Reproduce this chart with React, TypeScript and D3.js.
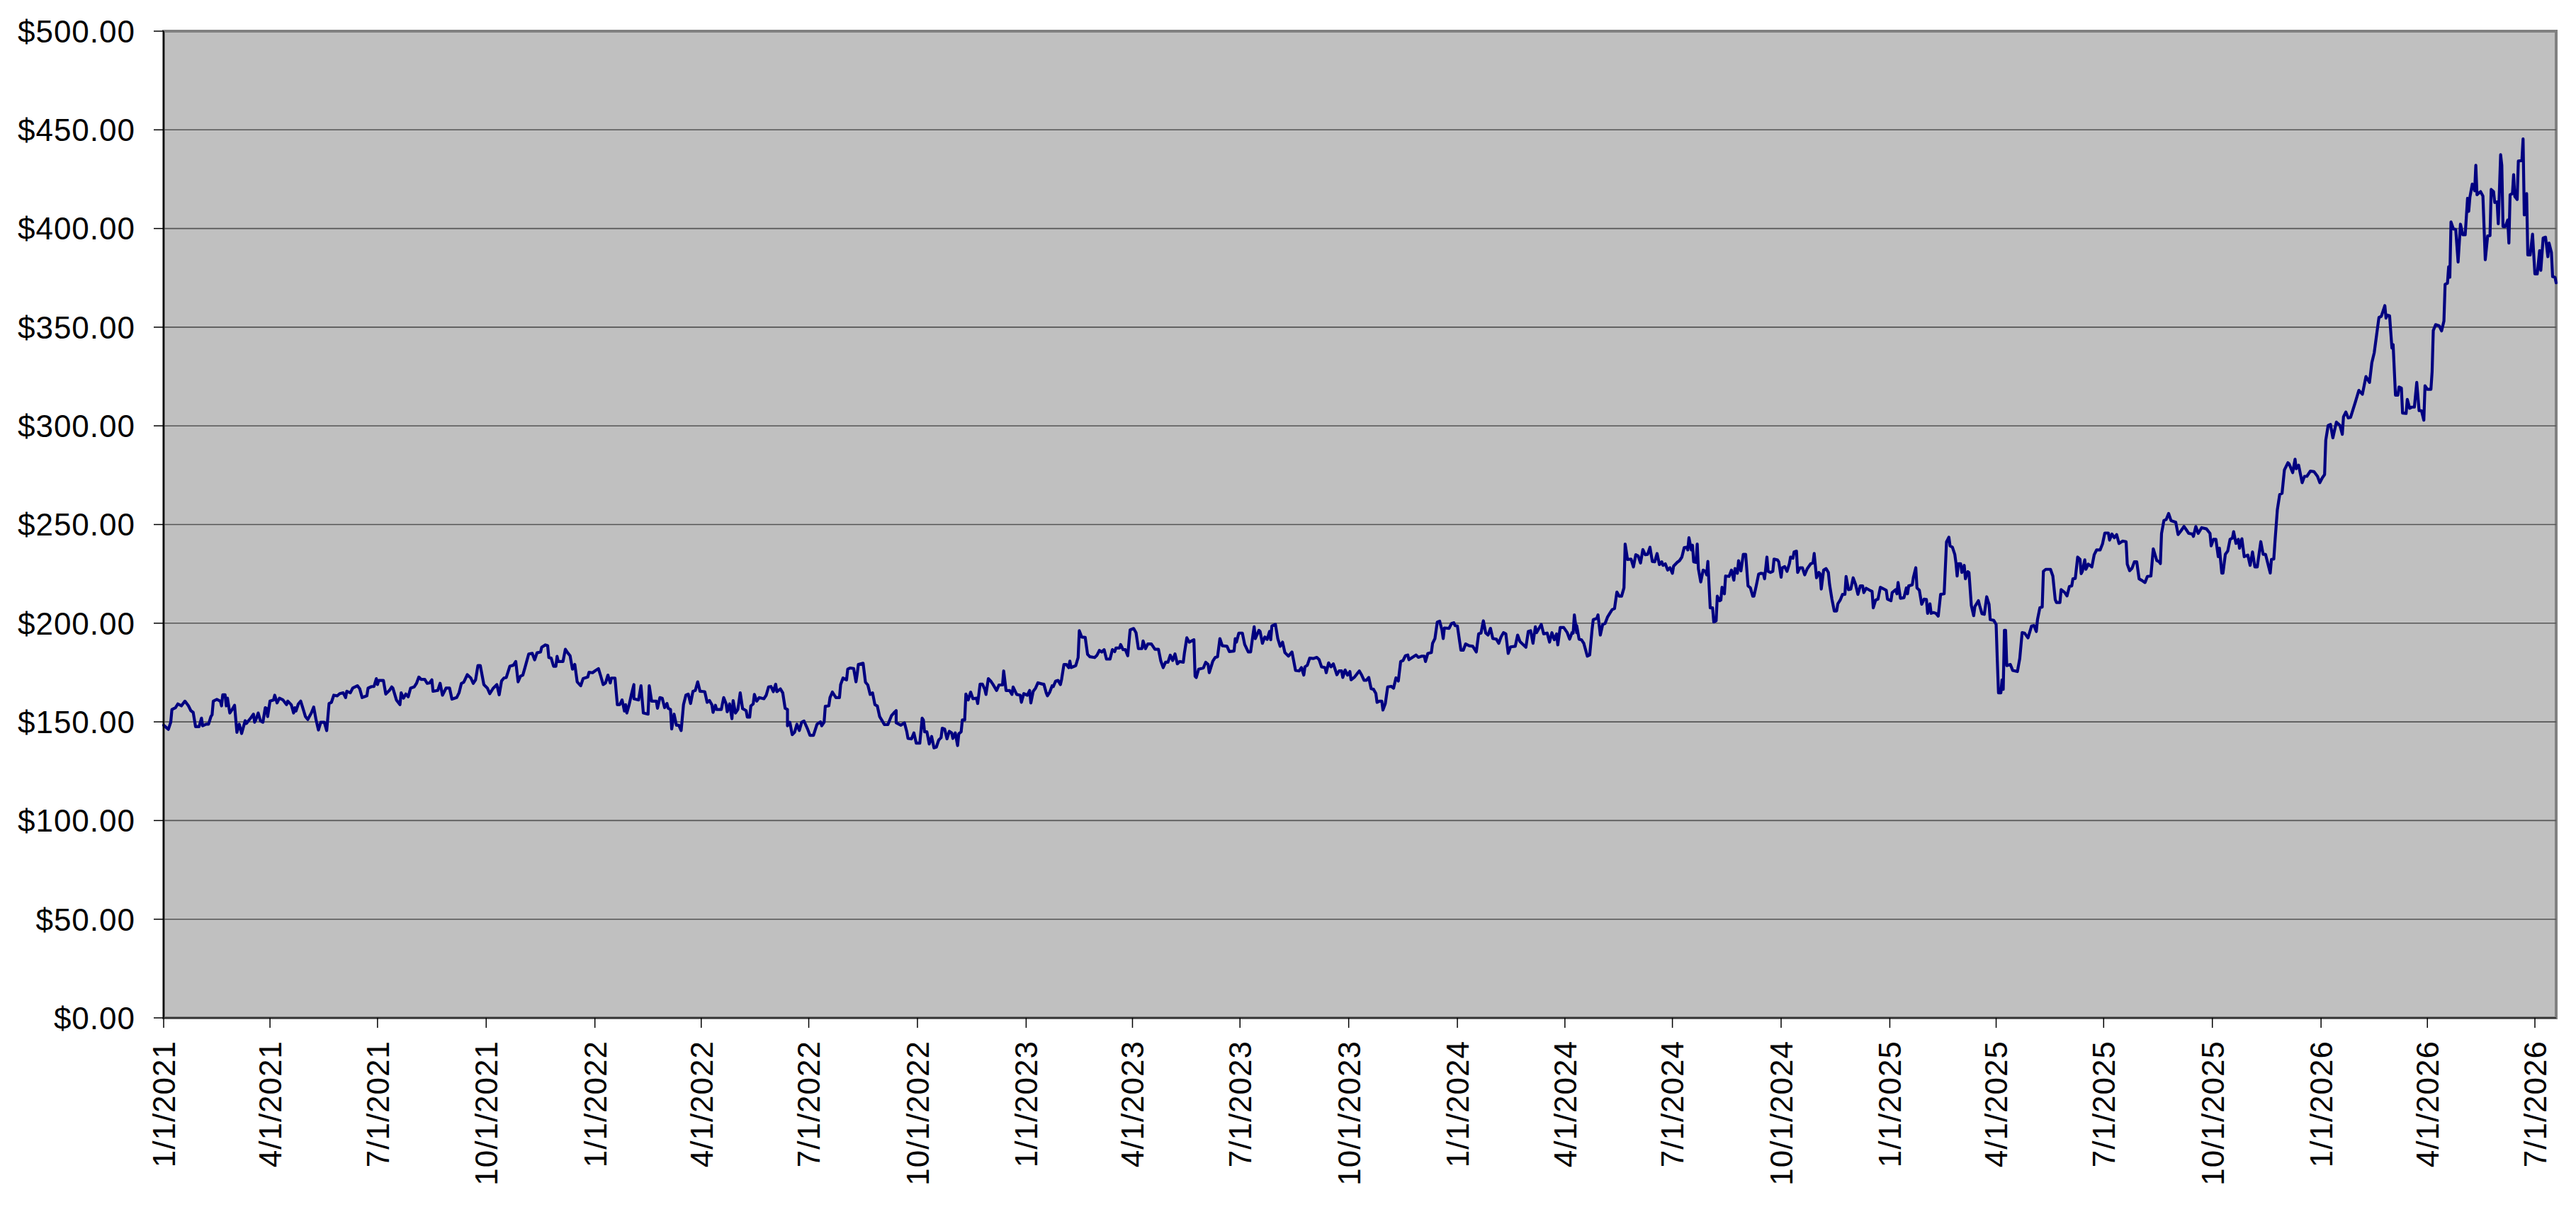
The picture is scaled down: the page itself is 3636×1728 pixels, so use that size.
import { useEffect } from "react";
import * as d3 from "d3";

// closing prices; day = days since 1/1/2021
const startDate = new Date(2021, 0, 1);

const days = [
  0, 4, 6, 7, 10, 12, 15, 18, 21, 23, 25, 27, 30, 32, 33, 36, 38, 40, 41, 42,
  45, 48, 49, 50, 52, 53, 54, 56, 58, 60, 62, 64, 66, 69, 70, 74, 76, 77, 78, 80,
  82, 84, 86, 87, 88, 90, 93, 94, 96, 98, 101, 104, 105, 108, 110, 111, 112, 114, 116, 118,
  120, 122, 125, 127, 129, 131, 133, 136, 138, 140, 142, 144, 147, 149, 152, 154, 155, 158, 160, 164,
  166, 168, 172, 173, 176, 178, 180, 181, 182, 186, 188, 191, 193, 194, 197, 200, 201, 203, 205, 207,
  209, 212, 214, 216, 218, 221, 223, 225, 227, 228, 232, 234, 236, 239, 242, 244, 248, 250, 252, 254,
  257, 260, 262, 264, 266, 268, 271, 274, 276, 279, 282, 284, 286, 288, 290, 293, 296, 298, 300, 302,
  304, 306, 309, 312,
  314, 316, 319, 320, 323, 325, 326, 328, 330, 332, 333, 334, 338, 340, 342, 344, 346, 348, 350, 353,
  355, 359, 360, 363, 365, 368, 370, 372, 374, 376, 378, 379, 382, 384, 386, 388, 390, 391, 392, 394,
  396, 398, 398, 402, 404, 406, 410, 411, 413, 417, 418, 420, 422, 424, 426, 427, 429, 430, 432, 434,
  436, 438, 440, 442, 444, 446, 448, 450, 452, 454, 458, 460, 462, 464, 465, 467, 468, 472, 474, 476,
  477, 479, 481, 482, 484, 486, 488, 490, 493, 494, 496, 497, 499, 500, 502, 504, 508, 510, 512, 514,
  516, 518, 519, 522, 524, 526, 528, 528, 530, 532, 534, 536, 538, 540, 542, 545, 547, 550, 553, 556,
  557, 559, 560, 563, 564, 566, 569, 572, 573, 575, 578, 579, 581, 584, 586, 587, 588, 592, 594, 596,
  598, 600, 602, 604, 606, 608, 610, 613, 616, 618, 620, 620, 624,
  627, 629, 630, 633, 635, 637, 640, 642, 643, 644, 646, 648, 650, 652, 654, 656, 658, 659, 661, 663,
  665, 667, 668, 670, 672, 673, 675, 676, 678, 679, 681, 683, 685, 688, 689, 691, 693, 695, 696, 698,
  700, 702, 705, 707, 710, 711, 713, 716, 718, 719, 722, 725, 726, 728, 731, 733, 734, 736, 738, 740,
  744, 745, 747, 748, 750, 752, 753, 755, 757, 759, 760, 762, 764, 766, 767, 768, 772, 774, 775, 777,
  780, 782, 784, 788, 790, 792, 794, 796, 798, 801, 803, 805, 806, 809, 810, 812, 814, 816, 818, 821,
  823, 825, 828, 829, 831, 833, 836, 839, 842, 844, 846, 848, 850, 852, 854, 856, 858, 860, 863, 864,
  866, 868, 872, 873, 874, 876, 880, 882, 884, 885, 888, 890, 892, 894, 896, 900, 902, 906, 907, 908,
  910, 913, 915, 918, 920, 922, 923, 924, 927, 928, 930, 932, 934, 936,
  937, 938, 941, 943, 945, 947, 949, 952, 955, 958, 961, 963, 965, 966, 968, 970, 973, 976, 978, 980,
  983, 984, 986, 988, 990, 993, 995, 997, 998, 1000, 1002, 1004, 1005, 1008, 1010, 1012, 1014, 1016, 1018, 1020,
  1022, 1024, 1026, 1027, 1029, 1031, 1032, 1034, 1036, 1039, 1041, 1043, 1045, 1047, 1049, 1051, 1053, 1054, 1057, 1060,
  1062, 1065, 1067, 1068, 1070, 1073, 1074, 1076, 1078, 1080, 1082, 1083, 1084, 1088, 1090, 1092, 1093, 1095, 1098, 1100,
  1102, 1105, 1108, 1111, 1113, 1115, 1117, 1119, 1121, 1123, 1125, 1128, 1130, 1132, 1134, 1136, 1138, 1140, 1144, 1146,
  1148, 1150, 1153, 1155, 1157, 1159, 1161, 1162, 1166, 1168, 1171, 1173, 1175, 1177, 1179, 1180, 1182, 1185, 1188, 1190,
  1192, 1193, 1194, 1196, 1196, 1198, 1200, 1202, 1205, 1207, 1209, 1210, 1213, 1214, 1216, 1218, 1220, 1222, 1224, 1226,
  1228, 1230, 1232, 1234, 1236, 1237, 1239, 1242, 1244, 1246, 1248,
  1250, 1252, 1254, 1256, 1258, 1260, 1262, 1264, 1266, 1268, 1269, 1271, 1273, 1275, 1277, 1278, 1281, 1283, 1285, 1287,
  1289, 1290, 1291, 1293, 1294, 1295, 1297, 1298, 1299, 1301, 1303, 1305, 1306, 1307, 1309, 1311, 1312, 1314, 1315, 1317,
  1318, 1319, 1321, 1322, 1325, 1327, 1329, 1330, 1332, 1333, 1335, 1337, 1339, 1341, 1343, 1345, 1346, 1348, 1350, 1352,
  1354, 1355, 1357, 1358, 1360, 1362, 1363, 1366, 1367, 1369, 1370, 1372, 1374, 1376, 1377, 1379, 1380, 1382, 1383, 1385,
  1387, 1389, 1391, 1394, 1396, 1397, 1399, 1401, 1402, 1403, 1405, 1407, 1409, 1410, 1412, 1414, 1416, 1417, 1419, 1421,
  1423, 1424, 1426, 1428, 1430, 1432, 1434, 1436, 1438, 1439, 1441, 1444, 1446, 1447, 1449, 1451, 1453, 1456, 1458, 1459,
  1462, 1463, 1466, 1467, 1468, 1470, 1473, 1475, 1476, 1477, 1480, 1481, 1483, 1484, 1486, 1488, 1490, 1492, 1493, 1495,
  1496, 1498, 1500, 1502, 1504, 1507, 1509, 1511, 1512, 1514, 1516, 1517, 1518, 1519, 1521, 1522, 1524, 1525, 1527, 1528,
  1530, 1532, 1533, 1536, 1537, 1539, 1541, 1543, 1545, 1546, 1549, 1551, 1552, 1553, 1555, 1556, 1557, 1558, 1559,
  1560, 1563, 1565, 1569, 1571, 1573, 1575, 1578, 1579, 1581, 1583, 1585, 1586, 1588, 1590, 1591, 1593, 1597, 1599, 1601,
  1602, 1605, 1606, 1609, 1611, 1613, 1615, 1616, 1618, 1620, 1622, 1623, 1624, 1626, 1627, 1629, 1632, 1634, 1636, 1639,
  1641, 1643, 1646, 1647, 1649, 1651, 1653, 1655, 1658, 1661, 1662, 1664, 1666, 1668, 1670, 1672, 1674, 1677, 1679, 1682,
  1684, 1687, 1689, 1690, 1691, 1693, 1695, 1697, 1699, 1703, 1705, 1707, 1710, 1712, 1714, 1717, 1718, 1720, 1722, 1725,
  1729, 1732, 1733, 1735, 1737, 1739, 1740, 1742, 1743, 1745, 1747, 1749, 1751, 1752, 1754, 1756, 1757, 1759, 1761, 1764,
  1766, 1768, 1770, 1772, 1775, 1777, 1779, 1781, 1783, 1784, 1786, 1787, 1789, 1791, 1793, 1795, 1798, 1799, 1802, 1804,
  1805, 1807, 1810, 1812, 1814, 1817, 1820, 1823, 1825, 1827, 1829, 1830, 1832, 1834, 1836, 1839, 1842, 1844, 1845, 1847,
  1849, 1851, 1855, 1858, 1861, 1864, 1867, 1869,
  1871, 1873, 1875, 1877, 1880, 1881, 1882, 1884, 1886, 1887, 1889, 1891, 1892, 1894, 1895, 1898, 1899, 1901, 1903, 1905,
  1907, 1909, 1911, 1913, 1914, 1916, 1919, 1920, 1921, 1923, 1926, 1928, 1930, 1931, 1933, 1934, 1935, 1936, 1938, 1940,
  1942, 1944, 1946, 1948, 1950, 1951, 1952, 1954, 1956, 1957, 1958, 1961, 1963, 1965, 1967, 1969, 1970, 1972, 1973, 1975,
  1976, 1978, 1979, 1980, 1982, 1984, 1985, 1986, 1988, 1989, 1990, 1992, 1993, 1996, 1997, 1998, 2000, 2001, 2003, 2005,
  2007, 2009, 2011, 2012, 2014, 2016, 2018, 2019, 2021, 2022, 2024, 2025,
];

const prices = [
  148.3, 146.2, 149.8, 156.3, 157.2, 159.1, 158.1, 160.5, 158.1, 155.7, 154.8, 147.6, 147.6, 151.9, 148.0, 148.8, 148.8, 152.7, 153.6, 160.5,
  161.4, 160.5, 158.1, 163.7, 163.7, 158.1, 162.0, 154.5, 156.3, 158.4, 144.7, 148.8, 144.1, 150.6, 149.2, 152.2, 153.9, 149.8, 151.0, 154.5,
  150.4, 149.8, 157.2, 156.9, 152.7, 160.5, 161.1, 163.5, 159.6, 162.0, 161.1, 158.7, 160.5, 158.7, 154.5, 157.2, 155.5, 159.1, 160.5, 156.6,
  152.7, 151.2, 154.5, 157.5, 151.0, 145.9, 149.8, 149.8, 145.6, 159.3, 159.9, 163.5, 163.2, 164.3, 164.7, 162.3, 165.5, 164.7, 167.1, 168.3,
  166.7, 162.3, 163.2, 167.1, 167.9, 167.9, 171.9, 168.9, 171.0, 171.0, 164.1, 165.9, 167.7, 167.1, 161.1, 158.7, 164.7, 162.0, 164.1, 162.7,
  167.1, 167.7, 169.5, 172.7, 171.5, 171.5, 169.5, 169.7, 171.3, 165.5, 165.9, 169.5, 163.5, 167.1, 167.1, 161.5, 162.3, 164.7, 169.5, 170.1,
  173.9, 172.2, 169.5, 171.3, 178.5, 178.5, 168.9, 167.1, 164.3, 167.1, 168.9, 163.7, 170.7, 172.2, 172.5, 178.2, 178.7, 180.6, 170.3, 173.1,
  173.7, 177.9, 184.4, 184.7,
  181.4, 185.0, 185.4, 187.8, 189.0, 188.6, 182.6, 182.3, 178.2, 178.2, 183.2, 180.6, 180.6, 186.8, 185.0, 183.5, 176.7, 179.1, 170.3, 168.3,
  171.9, 172.7, 175.1, 174.9, 175.8, 177.0, 173.1, 168.9, 169.7, 173.7, 169.7, 172.2, 172.2, 158.7, 158.7, 161.1, 155.5, 158.7, 154.5, 158.7,
  164.1, 168.9, 161.7, 161.1, 168.3, 154.5, 153.9, 168.3, 160.5, 160.5, 156.9, 162.3, 162.0, 157.2, 159.3, 156.9, 156.3, 146.4, 153.9, 148.3,
  148.3, 145.6, 158.7, 163.5, 164.1, 159.3, 165.5, 165.9, 170.3, 165.5, 165.3, 159.9, 160.8, 158.7, 154.8, 158.4, 156.3, 156.3, 162.3, 159.3,
  155.1, 159.1, 151.6, 160.8, 154.5, 156.3, 164.7, 156.7, 155.7, 152.4, 152.4, 158.1, 159.1, 163.9, 160.5, 162.3, 161.7, 163.5, 167.7, 167.9,
  165.3, 169.1, 165.3, 166.7, 164.7, 156.9, 156.3, 148.0, 149.8, 143.5, 144.7, 148.8, 145.6, 149.8, 150.4, 146.4, 143.2, 143.2, 148.8, 150.0,
  148.0, 149.8, 157.9, 158.1, 162.3, 165.1, 162.3, 162.3, 168.9, 172.2, 171.3, 176.7, 177.3, 177.0, 170.3, 174.3, 179.1, 179.7, 170.1, 168.7,
  163.9, 164.7, 158.7, 158.1, 152.7, 150.7, 148.6, 148.6, 153.1, 154.5, 155.7, 149.5, 148.3,
  149.5, 145.0, 141.6, 141.4, 144.4, 139.2, 139.2, 151.9, 151.0, 145.0, 145.0, 138.8, 142.6, 136.8, 137.2, 140.8, 142.0, 146.8, 146.4, 141.4,
  145.2, 144.4, 141.6, 144.4, 138.0, 144.0, 145.0, 151.0, 151.0, 164.1, 161.1, 165.1, 161.7, 162.0, 159.3, 169.1, 169.1, 166.5, 163.9, 171.9,
  170.7, 168.9, 165.9, 168.7, 168.7, 175.8, 165.9, 165.9, 163.9, 167.7, 163.9, 163.5, 159.9, 164.3, 163.5, 165.9, 159.6, 165.5, 167.1, 169.8,
  169.1, 169.1, 164.7, 163.2, 165.1, 168.3, 167.9, 170.7, 171.0, 168.9, 171.5, 179.1, 179.1, 177.5, 180.8, 177.5, 178.5, 182.6, 196.2, 193.0,
  192.8, 184.2, 183.0, 182.6, 183.8, 186.2, 185.4, 186.6, 181.8, 181.8, 186.6, 185.6, 187.4, 187.4, 189.2, 186.6, 186.6, 183.5, 196.6, 197.3,
  195.2, 187.1, 187.1, 191.0, 187.1, 189.5, 189.5, 186.8, 186.8, 180.8, 177.5, 180.2, 180.2, 183.8, 181.1, 184.4, 179.4, 180.6, 180.2, 185.0,
  192.6, 190.4, 191.6, 173.1, 172.5, 176.7, 177.3, 180.2, 179.1, 174.9, 180.8, 182.6, 183.0, 192.2, 188.6, 188.3, 185.6, 185.9, 192.2, 190.4,
  195.0, 195.0, 189.2, 185.4, 185.4, 194.2, 198.2, 192.2, 196.4, 195.8, 189.8, 193.0, 191.8, 195.8,
  191.6, 198.6, 199.4, 192.2, 188.3, 190.4, 185.1, 183.3, 185.4, 176.1, 175.8, 177.5, 173.7, 177.9, 178.7, 182.3, 182.1, 182.7, 181.5, 177.9,
  177.5, 174.9, 179.9, 177.9, 179.4, 173.9, 175.8, 175.8, 172.5, 176.3, 173.7, 175.5, 171.3, 172.7, 174.3, 175.8, 173.7, 171.1, 171.1, 172.5,
  166.8, 166.5, 164.4, 159.9, 160.5, 160.5, 156.0, 159.3, 167.7, 168.0, 167.1, 172.3, 170.7, 180.6, 181.1, 183.5, 183.9, 181.5, 182.7, 183.9,
  182.7, 183.3, 183.3, 180.6, 184.7, 185.1, 189.8, 192.2, 200.6, 201.0, 196.4, 192.2, 197.6, 197.4, 199.8, 200.2, 198.8, 198.6, 186.3, 186.3,
  189.5, 188.6, 188.3, 185.4, 194.6, 195.0, 201.2, 195.0, 194.0, 197.4, 192.2, 191.9, 189.8, 193.1, 195.2, 194.6, 184.7, 188.0, 188.3, 194.0,
  190.7, 189.5, 187.8, 195.8, 196.2, 189.8, 198.2, 195.2, 199.4, 194.6, 195.0, 190.4, 195.2, 191.6, 194.6, 189.0, 197.8, 197.8, 195.2, 191.9,
  195.2, 195.0, 204.2, 195.2, 198.8, 191.9, 191.6, 189.8, 183.3, 183.9, 196.7, 201.8, 202.4, 204.2, 194.0, 199.4, 199.8, 203.0, 205.0, 206.9,
  207.4, 215.8, 213.7, 213.7, 217.9, 240.1, 232.3, 232.5, 228.5, 234.7, 234.1,
  230.5, 237.3, 234.7, 234.9, 238.5, 231.3, 231.1, 235.3, 229.7, 231.1, 229.3, 230.1, 226.9, 228.1, 225.3, 228.9, 230.8, 231.7, 233.5, 238.3,
  238.5, 237.1, 243.3, 237.1, 239.5, 231.1, 230.8, 240.1, 227.5, 220.9, 226.9, 226.3, 224.5, 231.3, 207.8, 207.8, 200.6, 201.2, 213.7, 211.4,
  211.7, 218.2, 214.9, 223.9, 223.7, 226.9, 221.8, 227.7, 225.3, 231.7, 226.5, 234.9, 234.9, 218.9, 217.9, 213.7, 213.7, 219.1, 224.9, 225.3,
  225.1, 222.5, 233.5, 226.3, 225.7, 226.3, 232.5, 232.0, 231.1, 223.3, 228.1, 228.7, 226.3, 230.1, 233.5, 232.9, 236.1, 236.5, 225.7, 228.1,
  228.1, 224.5, 227.5, 230.1, 230.5, 235.3, 223.0, 225.7, 225.1, 217.3, 226.9, 227.7, 225.7, 219.7, 212.2, 206.2, 206.2, 209.8, 211.7, 214.6,
  214.6, 223.7, 217.0, 217.3, 223.0, 219.7, 214.6, 218.9, 218.9, 215.5, 217.7, 216.7, 216.1, 207.8, 211.7, 212.2, 218.2, 217.3, 216.7, 212.2,
  211.4, 215.5, 217.0, 214.9, 220.6, 212.6, 212.9, 217.9, 214.9, 218.9, 219.4, 223.3, 228.1, 217.9, 216.7, 209.6, 212.2, 212.0, 205.0, 209.8,
  205.0, 205.4, 205.0, 203.6, 214.6, 214.9, 241.2, 243.6, 239.2, 238.5, 234.9, 230.5, 223.9, 230.1, 230.1, 225.7, 229.3, 222.5, 226.1, 225.7,
  209.0, 203.8, 208.4, 211.4, 209.0, 204.8, 204.5, 213.4, 209.6, 201.8, 201.4, 199.4, 180.9, 164.7, 164.7, 171.3, 166.5, 196.4, 196.4,
  178.5, 179.1, 176.1, 175.5, 182.1, 195.2, 195.0, 192.6, 194.6, 198.6, 198.8, 195.8, 201.8, 207.8, 208.2, 226.3, 227.3, 227.3, 223.9, 212.0,
  210.5, 210.5, 217.0, 215.6, 213.8, 218.6, 218.9, 222.5, 222.7, 233.5, 232.3, 225.1, 226.3, 232.1, 227.3, 229.9, 228.5, 234.7, 237.1, 237.1,
  240.1, 245.7, 245.7, 242.1, 245.2, 243.3, 244.9, 240.4, 241.6, 241.3, 229.9, 226.6, 227.8, 231.1, 231.1, 222.5, 221.8, 220.6, 223.7, 223.9,
  237.7, 231.7, 231.1, 230.2, 245.5, 252.0, 252.6, 255.6, 252.0, 251.2, 244.9, 246.4, 249.0, 247.3, 245.5, 245.2, 244.0, 249.0, 245.5, 248.4,
  247.8, 245.5, 239.2, 242.5, 242.5, 233.7, 238.0, 225.4, 225.4, 234.9, 236.5, 242.5, 243.1, 246.4, 240.4, 242.5, 238.0, 242.8, 233.7, 234.5,
  229.3, 236.1, 228.5, 228.5, 241.3, 234.9, 234.9, 230.2, 225.4, 232.3, 232.5, 241.3, 257.4, 265.2, 265.8, 277.7, 281.3, 280.7, 276.3, 283.1,
  278.3, 280.1, 271.2, 274.4, 274.4, 277.1, 276.8, 274.4, 271.2, 273.6, 275.3, 292.7, 300.2, 300.7, 293.9, 301.9, 300.2, 295.7, 304.6, 307.0,
  304.0, 304.3, 312.0, 318.0, 316.0, 325.0, 322.0, 332.0,
  337.0, 346.0, 354.9, 355.5, 360.9, 354.6, 356.1, 355.8, 339.4, 341.2, 315.5, 315.5, 319.7, 319.1, 306.5, 306.3, 313.4, 308.9, 309.5, 309.5,
  322.0, 307.7, 307.7, 302.9, 320.3, 318.5, 318.5, 327.4, 348.3, 351.3, 350.7, 348.1, 353.1, 371.7, 372.3, 380.6, 375.3, 403.3, 399.8, 399.5,
  383.0, 402.2, 396.8, 396.8, 415.3, 408.7, 415.9, 422.5, 419.1, 432.0, 417.1, 418.7, 416.5, 384.2, 396.2, 396.4, 419.8, 418.7, 413.2, 413.5,
  402.4, 437.4, 432.0, 401.0, 401.0, 404.3, 392.6, 417.1, 417.7, 427.3, 416.3, 414.7, 434.2, 434.4, 445.4, 406.9, 417.7, 386.6, 386.6, 397.1,
  377.0, 377.0, 388.8, 378.8, 395.2, 395.6, 385.7, 392.6, 387.8, 375.6, 375.3, 372.5,
];

const yTickValues = [0, 50, 100, 150, 200, 250, 300, 350, 400, 450, 500];

const xTickLabels = [
  "1/1/2021", "4/1/2021", "7/1/2021", "10/1/2021",
  "1/1/2022", "4/1/2022", "7/1/2022", "10/1/2022",
  "1/1/2023", "4/1/2023", "7/1/2023", "10/1/2023",
  "1/1/2024", "4/1/2024", "7/1/2024", "10/1/2024",
  "1/1/2025", "4/1/2025", "7/1/2025", "10/1/2025",
  "1/1/2026", "4/1/2026", "7/1/2026",
];

const width = 3636;
const height = 1728;
const margin = { top: 44, right: 28, bottom: 291, left: 231 };
const fontFamily = "'Liberation Sans', Arial, Helvetica, sans-serif";

export default function App() {
  useEffect(() => {
    document.body.style.margin = "0";
  }, []);

  const n = Math.min(days.length, prices.length);
  const rows = d3.range(n).map((i) => ({
    date: d3.timeDay.offset(startDate, days[i]),
    price: prices[i],
  }));

  const left = margin.left;
  const right = width - margin.right;
  const top = margin.top;
  const bottom = height - margin.bottom;

  const x = d3
    .scaleTime()
    .domain(d3.extent(rows, (r) => r.date) as [Date, Date])
    .range([left, right]);
  const y = d3.scaleLinear().domain([0, 500]).range([bottom, top]);

  const parseTick = d3.timeParse("%m/%d/%Y");
  const fmtDollar = d3.format("$.2f");

  const line = d3
    .line<(typeof rows)[number]>()
    .x((r) => x(r.date))
    .y((r) => y(r.price));

  const fontSize = 44;

  return (
    <svg width={width} height={height} style={{ display: "block", background: "#fff" }}>
      <rect x={left} y={top} width={right - left} height={bottom - top} fill="#C0C0C0" stroke="#808080" strokeWidth={4} />

      {yTickValues
        .filter((v) => v > 0 && v < 500)
        .map((v) => (
          <line key={`g${v}`} x1={left} x2={right} y1={y(v)} y2={y(v)} stroke="#555555" strokeWidth={1.6} />
        ))}

      <path d={line(rows) ?? ""} fill="none" stroke="#000080" strokeWidth={4.2} strokeLinejoin="round" strokeLinecap="round" />

      {/* axes */}
      <line x1={left} x2={left} y1={top} y2={bottom} stroke="#000" strokeWidth={2} />
      <line x1={left} x2={right} y1={bottom} y2={bottom} stroke="#333" strokeWidth={2} />

      {yTickValues.map((v) => (
        <g key={`y${v}`}>
          <line x1={left - 14} x2={left} y1={y(v)} y2={y(v)} stroke="#000" strokeWidth={1.5} />
          <text
            x={left - 40}
            y={y(v)}
            dy="0.36em"
            textAnchor="end"
            fontFamily={fontFamily}
            fontSize={fontSize}
            letterSpacing={1}
            fill="#000"
          >
            {fmtDollar(v)}
          </text>
        </g>
      ))}

      {xTickLabels.map((label) => {
        const tx = x(parseTick(label) as Date);
        return (
          <g key={label}>
            <line x1={tx} x2={tx} y1={bottom} y2={bottom + 14} stroke="#000" strokeWidth={1.5} />
            <text
              transform={`translate(${tx},${bottom + 32}) rotate(-90)`}
              dy="0.36em"
              textAnchor="end"
              fontFamily={fontFamily}
              fontSize={fontSize}
              letterSpacing={1}
              fill="#000"
            >
              {label}
            </text>
          </g>
        );
      })}
    </svg>
  );
}
